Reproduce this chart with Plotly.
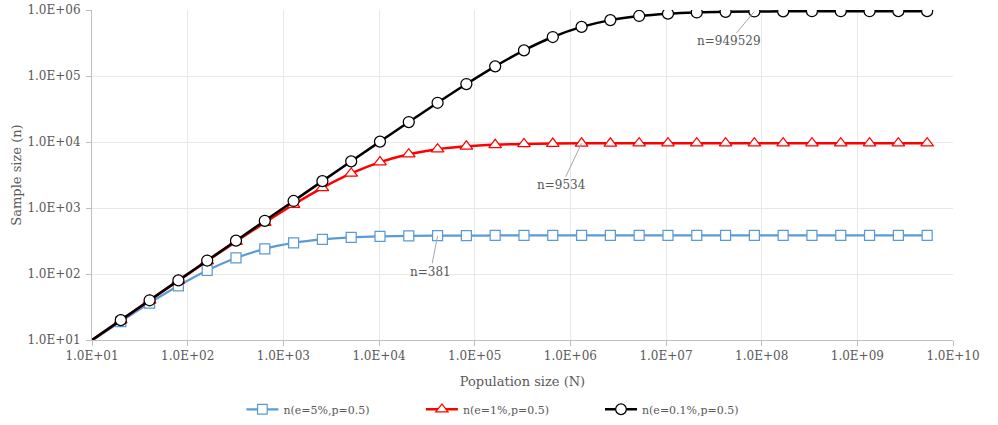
import math
import plotly.graph_objects as go

population = [10, 20, 40, 80, 160, 320, 640, 1280, 2560, 5120, 10240, 20480, 40960,
              81920, 163840, 327680, 655360, 1310720, 2621440, 5242880, 10485760,
              20971520, 41943040, 83886080, 167772160, 335544320, 671088640,
              1342177280, 2684354560, 5368709120]

n_e5 = [9.77, 19.06, 36.31, 66.35, 113.16, 174.83, 240.30, 295.66, 334.15, 357.41,
        370.30, 377.10, 380.60, 382.37, 383.26, 383.71, 383.94, 384.05, 384.10,
        384.13, 384.15, 384.16, 384.16, 384.16, 384.16, 384.16, 384.16, 384.16,
        384.16, 384.16]

n_e1 = [9.99, 19.96, 39.84, 79.35, 157.39, 309.71, 600.08, 1129.57, 2021.39, 3339.84,
        4956.1, 6538.2, 7780.0, 8596.3, 9072.2, 9330.6, 9465.3, 9534.1, 9568.9,
        9586.4, 9595.2, 9599.6, 9601.8, 9602.9, 9603.5, 9603.7, 9603.9, 9603.9,
        9604.0, 9604.0]

n_e01 = [10.0, 20.0, 40.0, 79.99, 159.97, 319.89, 639.57, 1278.3, 2553.2, 5092.9,
         10132.0, 20052.3, 39284.4, 75481.9, 139964, 244324, 389544, 554273, 702888,
         811704, 879811, 918344, 938896, 949529, 954936, 957654, 959027, 959713,
         960057, 960228]

x_tickvals = [1e1, 1e2, 1e3, 1e4, 1e5, 1e6, 1e7, 1e8, 1e9, 1e10]
x_ticktext = ["1.0E+01", "1.0E+02", "1.0E+03", "1.0E+04", "1.0E+05", "1.0E+06",
              "1.0E+07", "1.0E+08", "1.0E+09", "1.0E+10"]
y_tickvals = [1e1, 1e2, 1e3, 1e4, 1e5, 1e6]
y_ticktext = ["1.0E+01", "1.0E+02", "1.0E+03", "1.0E+04", "1.0E+05", "1.0E+06"]

labels = [("n=381", 40960, 380.60, -7, 36),
          ("n=9534", 1310720, 9534.1, -20, 42),
          ("n=949529", 83886080, 949529, -25, 30)]

FONT = "DejaVu Serif"
GRAY = "#595959"

fig = go.Figure()

def sizes(s, n):
    return [0] + [s] * (n - 1)

fig.add_trace(go.Scatter(
    x=population, y=n_e5, mode="lines+markers", name="n(e=5%,p=0.5)",
    line=dict(color="#5b9bd5", width=2.25, shape="spline"),
    marker=dict(symbol="square", size=sizes(10, len(population)), color="white",
                opacity=1, line=dict(color="#5b9bd5", width=1.25)),
    legend="legend",
))
fig.add_trace(go.Scatter(
    x=population, y=n_e1, mode="lines+markers", name="n(e=1%,p=0.5)",
    line=dict(color="#ff0000", width=2.5, shape="spline"),
    marker=dict(symbol="triangle-up", size=sizes(11, len(population)), color="white",
                opacity=1, line=dict(color="#ff0000", width=1.25)),
    legend="legend2",
))
fig.add_trace(go.Scatter(
    x=population, y=n_e01, mode="lines+markers", name="n(e=0.1%,p=0.5)",
    line=dict(color="#000000", width=2.5, shape="spline"),
    marker=dict(symbol="circle", size=sizes(11, len(population)), color="white",
                opacity=1, line=dict(color="#000000", width=1.25)),
    legend="legend3",
))

for text, xv, yv, ax, ay in labels:
    fig.add_annotation(x=math.log10(xv), y=math.log10(yv), xref="x", yref="y",
                       text=text, showarrow=True, arrowhead=0, arrowwidth=1,
                       arrowcolor="#a6a6a6", ax=ax, ay=ay, standoff=0,
                       font=dict(family=FONT, size=12, color=GRAY))

axis_common = dict(
    type="log", showgrid=True, gridcolor="#e8e8e8", gridwidth=1,
    showline=True, linecolor="#bfbfbf", linewidth=1,
    ticks="outside", ticklen=5, tickcolor="#bfbfbf",
    tickfont=dict(family=FONT, size=12, color=GRAY),
    zeroline=False, automargin=False, ticklabeloverflow="allow",
)

fig.update_xaxes(range=[1, 10], tickvals=x_tickvals, ticktext=x_ticktext,
                 title=dict(text="Population size (N)", standoff=14,
                            font=dict(family=FONT, size=13, color=GRAY)),
                 **axis_common)
fig.update_yaxes(range=[1, 6], tickvals=y_tickvals, ticktext=y_ticktext,
                 ticklabelstandoff=3,
                 title=dict(text="Sample size (n)", standoff=2,
                            font=dict(family=FONT, size=13, color=GRAY)),
                 **axis_common)

leg_common = dict(orientation="h", xanchor="left", y=-0.21, yanchor="middle",
                  font=dict(family=FONT, size=11, color=GRAY), itemwidth=32,
                  bgcolor="rgba(0,0,0,0)")

fig.update_layout(
    width=998, height=425,
    margin=dict(l=92, r=45, t=10, b=85, autoexpand=False),
    plot_bgcolor="white", paper_bgcolor="white",
    showlegend=True,
    legend=dict(x=0.1735, **leg_common),
    legend2=dict(x=0.382, **leg_common),
    legend3=dict(x=0.590, **leg_common),
)

fig.write_html("out.html", config={"displayModeBar": False},
               post_script="document.body.style.margin='0';")
